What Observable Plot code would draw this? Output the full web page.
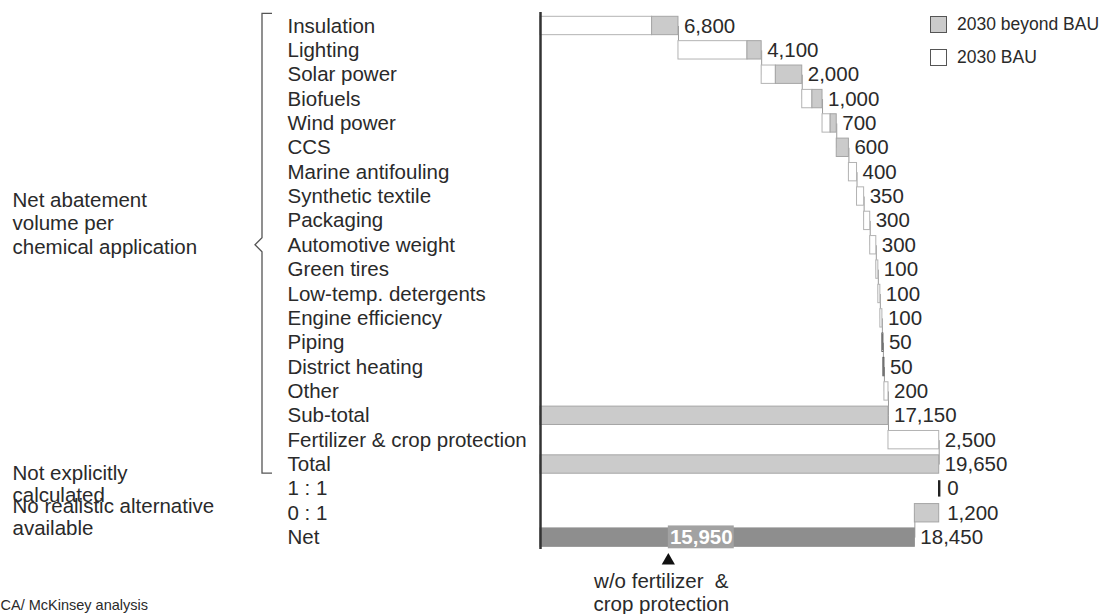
<!DOCTYPE html>
<html>
<head>
<meta charset="utf-8">
<script src="https://cdn.jsdelivr.net/npm/d3@7"></script>
<script src="https://cdn.jsdelivr.net/npm/@observablehq/plot@0.6"></script>
<style>
  html, body { margin: 0; padding: 0; background: #fff; }
  #wrap { position: relative; width: 1103px; height: 614px; overflow: hidden;
          font-family: "Liberation Sans", Arial, sans-serif; color: #2a2a2a; }
  #legend { position: absolute; left: 930px; top: 8px; font-size: 17.5px; }
  #legend .item { display: flex; align-items: center; height: 33px; white-space: nowrap; }
  #legend .sw { width: 17px; height: 17px; box-sizing: border-box; border: 1px solid #555; margin-right: 10px; }
</style>
</head>
<body>
<div id="wrap">
  <div id="chart"></div>
  <div id="legend"></div>
</div>
<script>
// ---------------- data ----------------
const applications = ["Insulation", "Lighting", "Solar power", "Biofuels", "Wind power", "CCS",
  "Marine antifouling", "Synthetic textile", "Packaging", "Automotive weight", "Green tires",
  "Low-temp. detergents", "Engine efficiency", "Piping", "District heating", "Other"];
const bauPart    = [5500, 3400,  700, 500, 400,   0, 400, 350, 300, 300, 100, 100, 100,  0,  0, 200];
const beyondPart = [1300,  700, 1300, 500, 300, 600,   0,   0,   0,   0,   0,   0,   0, 50, 50,   0];
const summaryRows = ["Sub-total", "Fertilizer & crop protection", "Total", "1 : 1", "0 : 1", "Net"];
const subTotal = 17150;
const fertilizer = 2500;
const total = 19650;
const oneToOne = 0;
const zeroToOne = 1200;
const net = 18450;
const netWithoutFertilizer = 15950;
const groupNet = {row: "Packaging", text: "Net abatement\nvolume per\nchemical application"};
const groupNotCalc = {row: "1 : 1", text: "Not explicitly\ncalculated"};
const groupNoAlt = {row: "0 : 1", text: "No realistic alternative\navailable"};
const legendItems = [
  {label: "2030 beyond BAU", kind: "beyond"},
  {label: "2030 BAU", kind: "bau"}
];
const source = "CA/ McKinsey analysis";
const noteText = "w/o fertilizer\u00a0 &\ncrop protection";

// ---------------- build tables ----------------
const rows = [...applications, ...summaryRows];
const fmt = d3.format(",");
const segments = [];
const labels = [];
const links = [];
let cum = 0;
applications.forEach((a, i) => {
  const s = cum;
  if (bauPart[i]) segments.push({row: a, x1: s, x2: s + bauPart[i], kind: "bau"});
  if (beyondPart[i]) segments.push({row: a, x1: s + bauPart[i], x2: s + bauPart[i] + beyondPart[i], kind: "beyond"});
  cum = s + bauPart[i] + beyondPart[i];
  labels.push({row: a, x: cum, text: fmt(bauPart[i] + beyondPart[i])});
  links.push({from: a, to: rows[i + 1], x: cum});
});
segments.push({row: "Sub-total", x1: 0, x2: subTotal, kind: "beyond"});
segments.push({row: "Fertilizer & crop protection", x1: subTotal, x2: subTotal + fertilizer, kind: "bau"});
segments.push({row: "Total", x1: 0, x2: total, kind: "beyond"});
segments.push({row: "0 : 1", x1: total - zeroToOne, x2: total, kind: "beyond"});
segments.push({row: "Net", x1: 0, x2: net, kind: "net"});
labels.push({row: "Sub-total", x: subTotal, text: fmt(subTotal)});
labels.push({row: "Fertilizer & crop protection", x: subTotal + fertilizer, text: fmt(fertilizer)});
labels.push({row: "Total", x: total, text: fmt(total)});
labels.push({row: "Net", x: net, text: fmt(net)});
const sideLabels = [
  {row: "1 : 1", x: total, text: fmt(oneToOne)},
  {row: "0 : 1", x: total, text: fmt(zeroToOne)}
];
links.push({from: "Sub-total", to: "Fertilizer & crop protection", x: subTotal});
links.push({from: "Fertilizer & crop protection", to: "Total", x: total});
links.push({from: "0 : 1", to: "Net", x: net});

// ---------------- styles ----------------
const fills = {bau: "#ffffff", beyond: "#cbcbcb", net: "#8e8e8e"};
const strokes = {bau: "#b3b3b3", beyond: "#a5a5a5", net: "#8e8e8e"};
const FS = 20.5;
const yRange = [13.3, 549.3];
const noteAt = 6300;        // position of the pointer (data units)
const noteBoxSpan = 3250;   // width of the highlighted label box (data units)

const chart = Plot.plot({
  width: 1103,
  height: 614,
  marginLeft: 540,
  marginRight: 164.3,
  marginTop: 0,
  marginBottom: 0,
  x: {domain: [0, total], axis: null},
  y: {type: "band", domain: rows, range: yRange, padding: 0, round: false, axis: null},
  style: {fontFamily: "'Liberation Sans', Arial, sans-serif", color: "#2a2a2a", background: "transparent", overflow: "visible"},
  marks: [
    // bracket
    () => {
      const yb = d3.scaleBand(rows, yRange);
      const bw = yb.bandwidth();
      const top = yb("Insulation");
      const mid = yb("Automotive weight") + bw / 2;
      const bottom = yb("Total") + bw - 3;
      const bx = 262;
      const p = d3.path();
      p.moveTo(bx + 10, top); p.lineTo(bx, top); p.lineTo(bx, mid - 7);
      p.lineTo(bx - 7, mid); p.lineTo(bx, mid + 7); p.lineTo(bx, bottom); p.lineTo(bx + 10, bottom);
      return d3.create("svg:path").attr("d", p.toString()).attr("fill", "none")
        .attr("stroke", "#555").attr("stroke-width", 1.3).node();
    },
    Plot.link(links, {x1: "x", x2: "x", y1: "from", y2: "to", stroke: "#9a9a9a", strokeWidth: 1}),
    Plot.barX(segments, {
      x1: "x1", x2: "x2", y: "row",
      fill: d => fills[d.kind],
      stroke: d => (d.kind === "beyond" && d.x2 - d.x1 < 100) ? "#555" : strokes[d.kind],
      strokeWidth: 1,
      insetTop: 3, insetBottom: 3
    }),
    // the "1 : 1" row: zero contribution drawn as a thick tick
    Plot.tickX([{row: "1 : 1", v: oneToOne}], {
      x: d => total + d.v, y: "row",
      stroke: "#222", strokeWidth: 2.4, insetTop: 4, insetBottom: 4
    }),
    // highlighted box in Net bar
    Plot.barX([netWithoutFertilizer], {
      x1: () => noteAt, x2: () => noteAt + noteBoxSpan, y: () => "Net",
      fill: "#a2a2a2", insetTop: 0.5, insetBottom: 1
    }),
    Plot.text([netWithoutFertilizer], {
      x: () => noteAt + noteBoxSpan / 2, y: () => "Net", text: d => fmt(d),
      fill: "white", fontWeight: "bold", fontSize: FS
    }),
    Plot.dot([netWithoutFertilizer], {
      x: () => noteAt, y: () => "Net", dy: 23, symbol: "triangle", r: 4.9, fill: "#111"
    }),
    Plot.text([noteText], {
      x: () => noteAt, y: () => "Net", dx: -7, dy: 54.5, text: d => d,
      fontSize: FS, lineHeight: 1.12, lineAnchor: "middle", textAnchor: "middle"
    }),
    // value labels
    Plot.text(labels, {x: "x", y: "row", text: "text", textAnchor: "start", dx: 5.5, fontSize: FS}),
    Plot.text(sideLabels, {x: "x", y: "row", text: "text", textAnchor: "start", dx: 8, fontSize: FS}),
    // axis line
    Plot.ruleX([0], {stroke: "#333", strokeWidth: 2.5, insetTop: 12, insetBottom: 65}),
    // category labels
    Plot.text(rows, {
      y: d => d, text: d => d, frameAnchor: "left", dx: -253, textAnchor: "start", fontSize: FS
    }),
    // group labels on the left
    Plot.text([groupNet], {
      y: "row", text: "text", dy: 2, frameAnchor: "left", dx: -528,
      textAnchor: "start", lineAnchor: "middle", lineHeight: 1.15, fontSize: FS
    }),
    Plot.text([groupNotCalc], {
      y: "row", text: "text", dy: -5, frameAnchor: "left", dx: -528,
      textAnchor: "start", lineAnchor: "middle", lineHeight: 1.07, fontSize: FS
    }),
    Plot.text([groupNoAlt], {
      y: "row", text: "text", dy: 4, frameAnchor: "left", dx: -528,
      textAnchor: "start", lineAnchor: "middle", lineHeight: 1.07, fontSize: FS
    }),
    // source
    Plot.text([source], {
      frameAnchor: "bottom-left", dx: -540, dy: -9, text: d => d,
      textAnchor: "start", lineAnchor: "middle", fontSize: 14.5
    })
  ]
});
document.getElementById("chart").appendChild(chart);

// legend
const legend = d3.select("#legend");
legendItems.forEach(it => {
  const row = legend.append("div").attr("class", "item");
  row.append("div").attr("class", "sw").style("background", fills[it.kind]);
  row.append("span").text(it.label);
});
</script>
</body>
</html>
